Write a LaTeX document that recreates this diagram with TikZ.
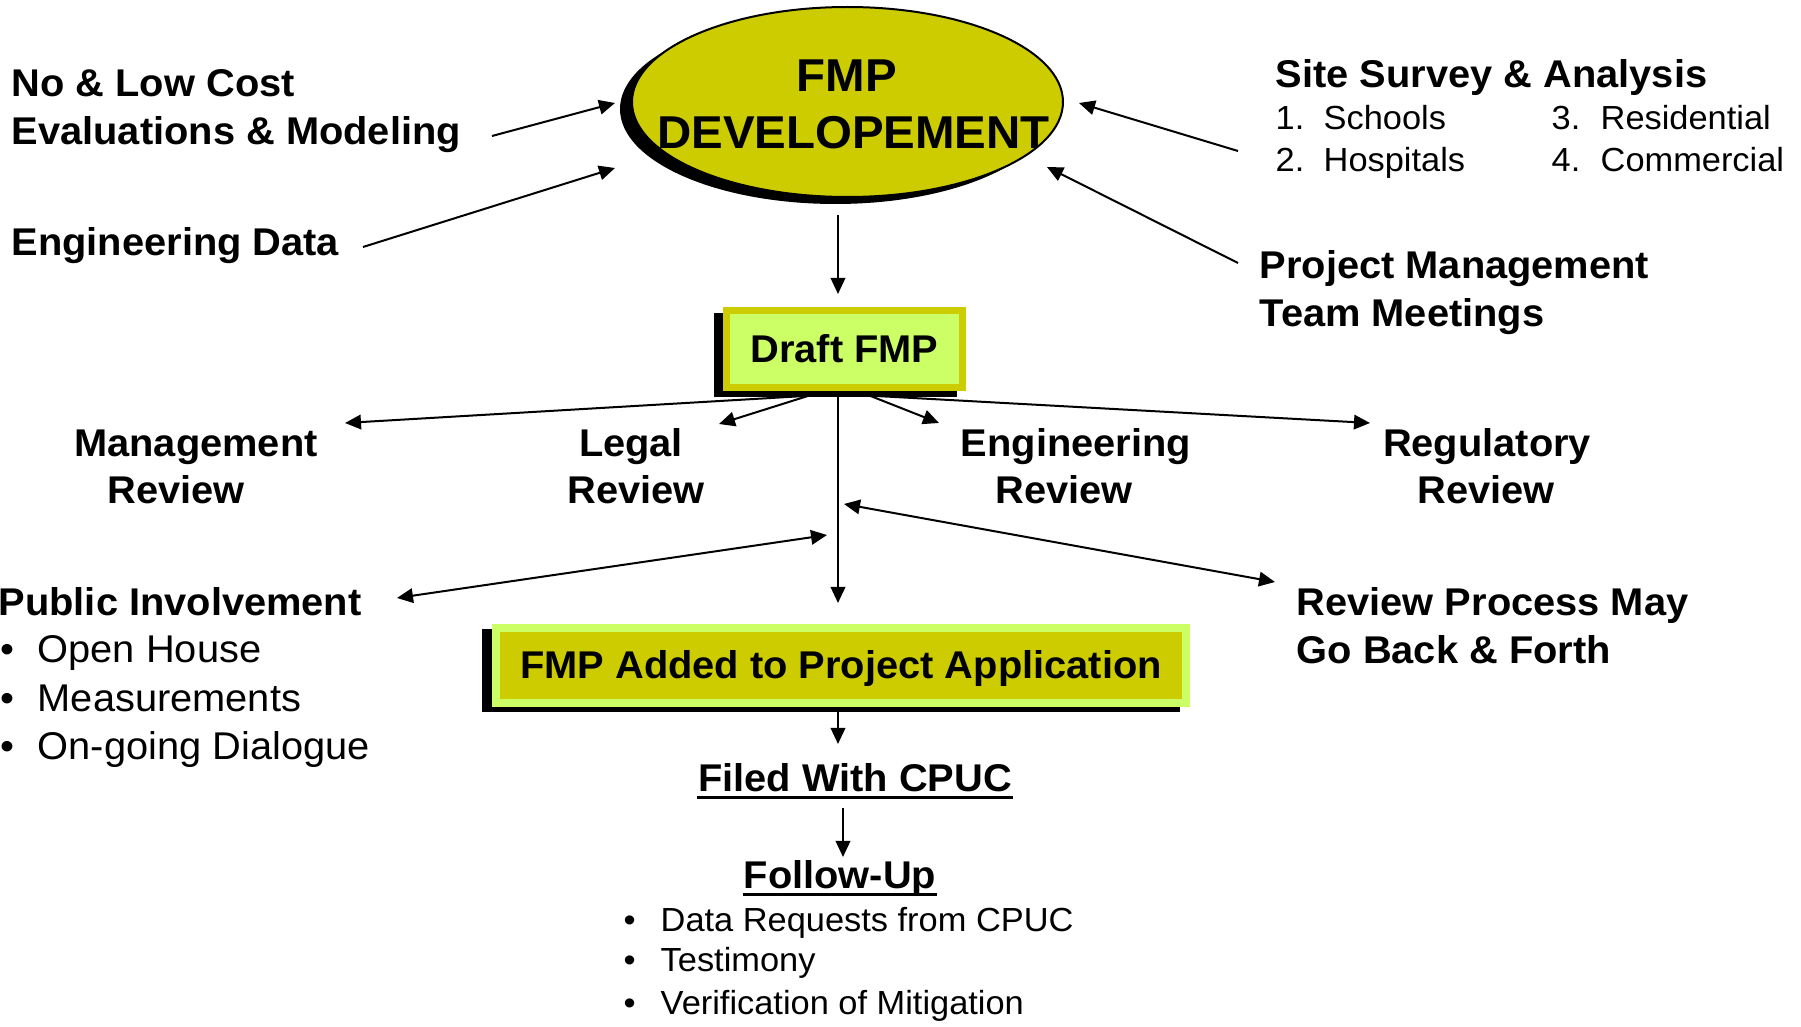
\documentclass[tikz,border=0pt]{standalone}
\usepackage{fontspec}
\setmainfont{Liberation Sans}[FakeStretch=1.03]
\usetikzlibrary{arrows.meta,shapes.geometric,backgrounds}
\definecolor{dky}{HTML}{CCCC00}
\definecolor{ltg}{HTML}{CCFF66}
\tikzset{
  lbl/.style={font=\fontsize{11}{13}\selectfont\bfseries, inner sep=0pt},
  txt/.style={font=\fontsize{11}{13}\selectfont, inner sep=0pt},
  sml/.style={font=\fontsize{9.5}{11}\selectfont, inner sep=0pt},
  big/.style={font=\fontsize{13.1}{15}\selectfont\bfseries, inner sep=0pt},
  arr/.style={-{Triangle[length=1.6mm,width=1.45mm]}, line width=0.2mm},
  darr/.style={{Triangle[length=1.6mm,width=1.45mm]}-{Triangle[length=1.6mm,width=1.45mm]}, line width=0.2mm},
  uline/.style={line width=0.3mm},
}
\begin{document}
\begin{tikzpicture}[x=0.1mm,y=-0.1mm]
\useasboundingbox (0,0) rectangle (1801,1027);

% central ellipse
\node[ellipse, draw, line width=0.2mm, fill=dky, minimum width=43.1mm, minimum height=19mm, inner sep=0pt] (fmp) at (847.5,102) {};
\node[big, anchor=base] (fmpT1) at (847,91.5) {FMP};
\node[big, anchor=base] (fmpT2) at (853.5,148.5) {DEVELOPEMENT};

% draft box
\node[lbl, draw=dky, line width=0.7mm, fill=ltg, minimum width=23.6mm, minimum height=7.7mm,
      text height=2.7mm, text depth=0mm] (draft) at (844.5,349) {Draft FMP};

% added box
\node[lbl, draw=ltg, line width=0.8mm, fill=dky, minimum width=69mm, minimum height=7.5mm,
      text height=2.7mm, text depth=0mm] (added) at (841,665.5) {FMP Added to Project Application};

% shadows
\begin{scope}[on background layer]
  \fill ([shift={(-12,7)}]fmp.center) ellipse [x radius=21.55mm, y radius=9.5mm];
  \fill ([shift={(-9,6)}]draft.south west) rectangle ([shift={(-9,6)}]draft.north east);
  \fill ([shift={(-10,5)}]added.south west) rectangle ([shift={(-10,5)}]added.north east);
\end{scope}

% left top labels
\node[lbl, anchor=base west] (noLow1) at (11,96.5) {No \& Low Cost};
\node[lbl, anchor=base west] (noLow2) at (11,144.5) {Evaluations \& Modeling};
\node[lbl, anchor=base west] (engData) at (11,256) {Engineering Data};

% right top labels
\node[lbl, anchor=base west] (site) at (1275,88) {Site Survey \& Analysis};
\node[sml, anchor=base west] (site1) at (1275,130) {\makebox[4.8mm][l]{1.}Schools};
\node[sml, anchor=base west] (site2) at (1275,172) {\makebox[4.8mm][l]{2.}Hospitals};
\node[sml, anchor=base west] (site3) at (1551,130) {\makebox[4.9mm][l]{3.}Residential};
\node[sml, anchor=base west] (site4) at (1551,172) {\makebox[4.9mm][l]{4.}Commercial};
\node[lbl, anchor=base west] (pm1) at (1259,279) {Project Management};
\node[lbl, anchor=base west] (pm2) at (1259,327) {Team Meetings};

% review labels
\node[lbl, anchor=base] (mgmt1) at (196,457) {Management};
\node[lbl, anchor=base] (mgmt2) at (176,504) {Review};
\node[lbl, anchor=base] (legal1) at (631,457) {Legal};
\node[lbl, anchor=base] (legal2) at (636,504) {Review};
\node[lbl, anchor=base] (eng1) at (1076,457) {Engineering};
\node[lbl, anchor=base] (eng2) at (1064,504) {Review};
\node[lbl, anchor=base] (reg1) at (1487,457) {Regulatory};
\node[lbl, anchor=base] (reg2) at (1486,504) {Review};

% public involvement
\node[lbl, anchor=base west] (pub) at (-2,616) {Public Involvement};
\node[txt, anchor=base west] (pub1) at (0,663) {\makebox[3.7mm][l]{\textbullet}Open House};
\node[txt, anchor=base west] (pub2) at (0,711.5) {\makebox[3.7mm][l]{\textbullet}Measurements};
\node[txt, anchor=base west] (pub3) at (0,760) {\makebox[3.7mm][l]{\textbullet}On-going Dialogue};

% review process
\node[lbl, anchor=base west] (rp1) at (1296,615.5) {Review Process May};
\node[lbl, anchor=base west] (rp2) at (1296,663.5) {Go Back \& Forth};

% filed / follow-up
\node[lbl, anchor=base] (filed) at (855,792) {Filed With CPUC};
\draw[uline] ([yshift=-0.6mm]filed.base west) -- ([yshift=-0.6mm]filed.base east);
\node[lbl, anchor=base] (follow) at (840,888.5) {Follow-Up};
\draw[uline] ([yshift=-0.6mm]follow.base west) -- ([yshift=-0.6mm]follow.base east);
\node[sml, anchor=base west] (fu1) at (623,931) {\makebox[3.7mm][l]{\textbullet}Data Requests from CPUC};
\node[sml, anchor=base west] (fu2) at (623,972) {\makebox[3.7mm][l]{\textbullet}Testimony};
\node[sml, anchor=base west] (fu3) at (623,1014) {\makebox[3.7mm][l]{\textbullet}Verification of Mitigation};

% arrow end points
\coordinate (evalS) at (492,136);   \coordinate (evalE) at (615,103);
\coordinate (engS) at (363,247);    \coordinate (engE) at (615,168);
\coordinate (siteS) at (1238,151);  \coordinate (siteE) at (1079,103);
\coordinate (pmS) at (1238,263);    \coordinate (pmE) at (1047,167);
\coordinate (fmpOut) at (838,215);  \coordinate (draftIn) at (838,294);
\coordinate (dMg) at (822,395);     \coordinate (mgE) at (345,423);
\coordinate (dLg) at (811,395);     \coordinate (lgE) at (719,424);
\coordinate (dEn) at (868,395);     \coordinate (enE) at (939,423);
\coordinate (dRg) at (858,395);     \coordinate (rgE) at (1370,423);
\coordinate (dDn) at (838,395);     \coordinate (dnE) at (838,603);
\coordinate (pubE) at (397,598);    \coordinate (pubC) at (827,535);
\coordinate (rpC) at (844,504);     \coordinate (rpE) at (1275,582);
\coordinate (addOut) at (838,712);  \coordinate (filedIn) at (838,744);
\coordinate (filedOut) at (843,808);\coordinate (followIn) at (843,857);

% connectors
\draw[arr] (evalS) -- (evalE);
\draw[arr] (engS) -- (engE);
\draw[arr] (siteS) -- (siteE);
\draw[arr] (pmS) -- (pmE);
\draw[arr] (fmpOut) -- (draftIn);
\draw[arr] (dMg) -- (mgE);
\draw[arr] (dLg) -- (lgE);
\draw[arr] (dEn) -- (enE);
\draw[arr] (dRg) -- (rgE);
\draw[arr] (dDn) -- (dnE);
\draw[darr] (pubE) -- (pubC);
\draw[darr] (rpC) -- (rpE);
\draw[arr] (addOut) -- (filedIn);
\draw[arr] (filedOut) -- (followIn);
\end{tikzpicture}
\end{document}
